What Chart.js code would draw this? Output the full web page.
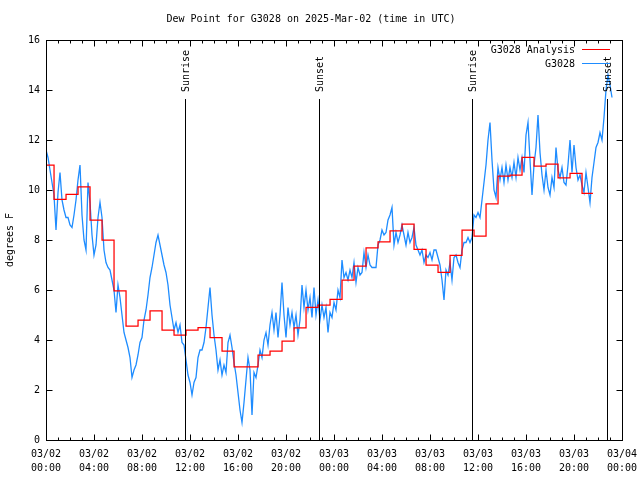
<!DOCTYPE html>
<html>
<head>
<meta charset="utf-8">
<title>Dew Point G3028</title>
<style>
  html, body { margin: 0; padding: 0; background: #fff; }
</style>
<script src="https://cdn.jsdelivr.net/npm/chart.js@4.4.1/dist/chart.umd.min.js"></script>
</head>
<body>
<canvas id="dewpoint" width="640" height="480"></canvas>
<script>
const stationName = 'G3028';
const chartTitle = 'Dew Point for G3028 on 2025-Mar-02 (time in UTC)';
const yAxisLabel = 'degrees F';

// x axis is hours since 03/02 00:00 UTC
const xTickLabels = [
  ['03/02', '00:00'], ['03/02', '04:00'], ['03/02', '08:00'], ['03/02', '12:00'],
  ['03/02', '16:00'], ['03/02', '20:00'], ['03/03', '00:00'], ['03/03', '04:00'],
  ['03/03', '08:00'], ['03/03', '12:00'], ['03/03', '16:00'], ['03/03', '20:00'],
  ['03/04', '00:00'],
];

// hourly analysis, each value held until the next time
const analysisHours = [
  0, 0.67, 1.67, 2.67, 3.67, 4.67, 5.67, 6.67, 7.67, 8.67, 9.67, 10.67,
  11.67, 12.67, 13.67, 14.67, 15.67, 16.67, 17.67, 18.67, 19.67, 20.67, 21.67, 22.67,
  23.67, 24.67, 25.67, 26.67, 27.67, 28.67, 29.67, 30.67, 31.67, 32.67, 33.67, 34.67,
  35.67, 36.67, 37.67, 38.67, 39.67, 40.67, 41.67, 42.67, 43.67, 44.67, 45.58,
];
const analysisValues = [
  11.0, 9.63, 9.83, 10.13, 8.8, 8.0, 5.97, 4.56, 4.8, 5.17, 4.4, 4.2,
  4.4, 4.5, 4.1, 3.56, 2.93, 2.93, 3.4, 3.56, 3.96, 4.49, 5.31, 5.4,
  5.63, 6.4, 6.96, 7.69, 7.93, 8.37, 8.64, 7.63, 7.0, 6.71, 7.39, 8.4,
  8.16, 9.45, 10.56, 10.6, 11.31, 10.96, 11.04, 10.49, 10.67, 9.87, 9.87,
];

// station observations, one every 10 minutes from 03/02 00:00
const obsStepMinutes = 10;
const obsValues = [
  11.6, 11.3, 10.8, 10.3, 9.8, 8.4, 9.9, 10.7, 9.6, 9.2,
  8.9, 8.9, 8.6, 8.5, 9.0, 9.6, 10.4, 11.0, 9.0, 8.0,
  7.6, 10.3, 9.5, 8.2, 7.4, 7.8, 8.9, 9.5, 8.9, 7.6,
  7.1, 6.9, 6.8, 6.4, 6.0, 5.1, 6.2, 5.7, 5.0, 4.3,
  4.0, 3.7, 3.3, 2.5, 2.8, 3.0, 3.4, 3.9, 4.1, 4.8,
  5.2, 5.8, 6.5, 6.9, 7.4, 7.9, 8.2, 7.8, 7.4, 7.0,
  6.7, 6.2, 5.4, 4.9, 4.4, 4.7, 4.3, 4.6, 3.9, 3.8,
  3.2, 2.6, 2.3, 1.8, 2.3, 2.5, 3.3, 3.6, 3.6, 3.9,
  4.5, 5.3, 6.1, 5.0, 4.2, 3.6, 2.8, 3.2, 2.6, 3.0,
  2.7, 3.9, 4.2, 3.7, 3.1, 2.6, 1.9, 1.2, 0.7, 1.5,
  2.4, 3.3, 2.8, 1.0, 2.7, 2.5, 3.0, 3.6, 3.3, 4.0,
  4.3, 3.8, 4.6, 5.1, 4.4, 5.1, 4.1, 5.0, 6.3, 5.0,
  4.1, 5.3, 4.6, 5.1, 4.5, 5.0, 4.2, 4.8, 6.2, 5.3,
  6.0, 5.2, 5.7, 4.9, 6.1, 5.0, 5.6, 4.8, 5.4, 4.9,
  5.3, 4.3, 5.1, 4.9, 5.5, 5.2, 6.0, 5.7, 7.2, 6.5,
  6.7, 6.4, 6.8, 6.5, 7.1, 6.3, 6.9, 6.6, 6.7, 7.5,
  6.9, 7.4, 7.0, 6.9, 6.9, 6.9, 7.8, 8.0, 8.4, 8.2,
  8.3, 8.8, 9.0, 9.3, 7.8, 8.3, 7.9, 8.2, 8.6, 8.2,
  7.8, 8.3, 7.9, 8.1, 8.5, 7.8, 7.6, 7.4, 7.6, 7.1,
  7.4, 7.3, 7.5, 7.2, 7.6, 7.6, 7.3, 7.0, 6.4, 5.6,
  6.8, 6.6, 7.1, 6.4, 7.3, 7.4, 7.1, 6.9, 7.6, 7.9,
  7.9, 8.1, 7.9, 8.1, 9.0, 8.9, 9.1, 8.9, 9.6, 10.3,
  11.0, 12.0, 12.7, 11.2, 10.0, 9.7, 10.9, 10.4, 10.9, 10.3,
  11.0, 10.4, 10.9, 10.5, 11.1, 10.5, 11.3, 10.8, 11.3, 10.7,
  12.2, 12.7, 11.2, 9.8, 11.0, 11.7, 13.0, 11.5, 10.6, 10.0,
  10.8, 10.1, 9.8, 10.5, 10.1, 11.7, 10.8, 10.5, 10.9, 10.3,
  10.2, 11.0, 12.0, 10.7, 11.8, 10.9, 10.4, 10.6, 10.2, 9.9,
  10.7, 10.1, 9.5, 10.5, 11.1, 11.7, 11.9, 12.3, 12.0, 12.9,
  14.0, 14.6, 14.2, 13.7,
];

const sunHours = [11.6, 22.74, 35.52, 46.72];
const sunLabels = ['Sunrise', 'Sunset', 'Sunrise', 'Sunset'];

const monoFont = '"DejaVu Sans Mono", "Liberation Mono", monospace';
Chart.defaults.font.family = monoFont;
Chart.defaults.font.size = 10;
Chart.defaults.color = '#000';

// gnuplot-like frame: border, inward ticks, sun lines, legend
const framePlugin = {
  id: 'frame',
  afterDatasetsDraw(chart) {
    const { ctx, chartArea: area, scales } = chart;
    const xs = scales.x;
    const ys = scales.y;
    const L = Math.round(area.left) + 0.5;
    const R = Math.round(area.right) + 0.5;
    const T = Math.round(area.top) + 0.5;
    const B = Math.round(area.bottom) + 0.5;

    ctx.save();
    ctx.strokeStyle = '#000';
    ctx.lineWidth = 1;

    // sunrise / sunset
    ctx.font = '10px ' + monoFont;
    ctx.fillStyle = '#000';
    sunHours.forEach((h, i) => {
      const x = Math.round(xs.getPixelForValue(h)) + 0.5;
      ctx.beginPath();
      ctx.moveTo(x, 99);
      ctx.lineTo(x, B);
      ctx.stroke();
      ctx.save();
      ctx.translate(x + 1, 92);
      ctx.rotate(-Math.PI / 2);
      ctx.textAlign = 'left';
      ctx.textBaseline = 'middle';
      ctx.fillText(sunLabels[i], 0, 0);
      ctx.restore();
    });

    ctx.strokeRect(L, T, R - L, B - T);

    ctx.beginPath();
    for (let h = xs.min; h <= xs.max; h++) {
      const x = Math.round(xs.getPixelForValue(h)) + 0.5;
      const len = h % 4 === 0 ? 6 : 3;
      ctx.moveTo(x, B); ctx.lineTo(x, B - len);
      ctx.moveTo(x, T); ctx.lineTo(x, T + len);
    }
    for (let v = ys.min; v <= ys.max; v += 2) {
      const y = Math.round(ys.getPixelForValue(v)) + 0.5;
      ctx.moveTo(L, y); ctx.lineTo(L + 6, y);
      ctx.moveTo(R, y); ctx.lineTo(R - 6, y);
    }
    ctx.stroke();

    // legend
    ctx.textAlign = 'right';
    ctx.textBaseline = 'middle';
    chart.data.datasets.forEach((ds, i) => {
      const y = 49 + i * 14;
      ctx.fillStyle = '#000';
      ctx.fillText(ds.label, 575, y + 1);
      ctx.strokeStyle = ds.borderColor;
      ctx.beginPath();
      ctx.moveTo(582, y + 0.5);
      ctx.lineTo(610, y + 0.5);
      ctx.stroke();
    });
    ctx.restore();
  },
};

const ctx = document.getElementById('dewpoint').getContext('2d');

// eslint-disable-next-line no-unused-vars
const dewChart = new Chart(ctx, {
  type: 'line',
  data: {
    datasets: [
      {
        label: stationName + ' Analysis',
        data: analysisHours.map((h, i) => ({ x: h, y: analysisValues[i] })),
        borderColor: '#ff0000',
        borderWidth: 1.25,
        pointRadius: 0,
        stepped: 'before',
      },
      {
        label: stationName,
        data: obsValues.map((v, i) => ({ x: i * obsStepMinutes / 60, y: v })),
        borderColor: '#1e8cff',
        borderWidth: 1.3,
        pointRadius: 0,
        tension: 0,
      },
    ],
  },
  options: {
    responsive: false,
    animation: false,
    layout: { padding: { left: 0, right: 18, top: 0, bottom: 0 } },
    plugins: {
      legend: { display: false },
      tooltip: { enabled: false },
      title: {
        display: true,
        text: chartTitle,
        color: '#000',
        font: { family: monoFont, size: 10, weight: 'normal' },
        padding: { top: 13, bottom: 15 },
      },
    },
    scales: {
      x: {
        type: 'linear',
        min: 0,
        max: 48,
        grid: { display: false, drawTicks: false },
        border: { display: false },
        ticks: {
          stepSize: 4,
          autoSkip: false,
          maxRotation: 0,
          padding: 7,
          font: { family: monoFont, size: 10, lineHeight: 1.4 },
          callback: (value) => xTickLabels[value / 4],
        },
        afterFit: (scale) => {
          scale.height = 40;
          scale.paddingLeft = 0;
          scale.paddingRight = 0;
        },
      },
      y: {
        min: 0,
        max: 16,
        grid: { display: false, drawTicks: false },
        border: { display: false },
        ticks: { stepSize: 2, padding: 6 },
        title: { display: true, text: yAxisLabel, padding: 4 },
        afterFit: (scale) => { scale.width = 46; },
      },
    },
  },
  plugins: [framePlugin],
});
</script>
</body>
</html>
